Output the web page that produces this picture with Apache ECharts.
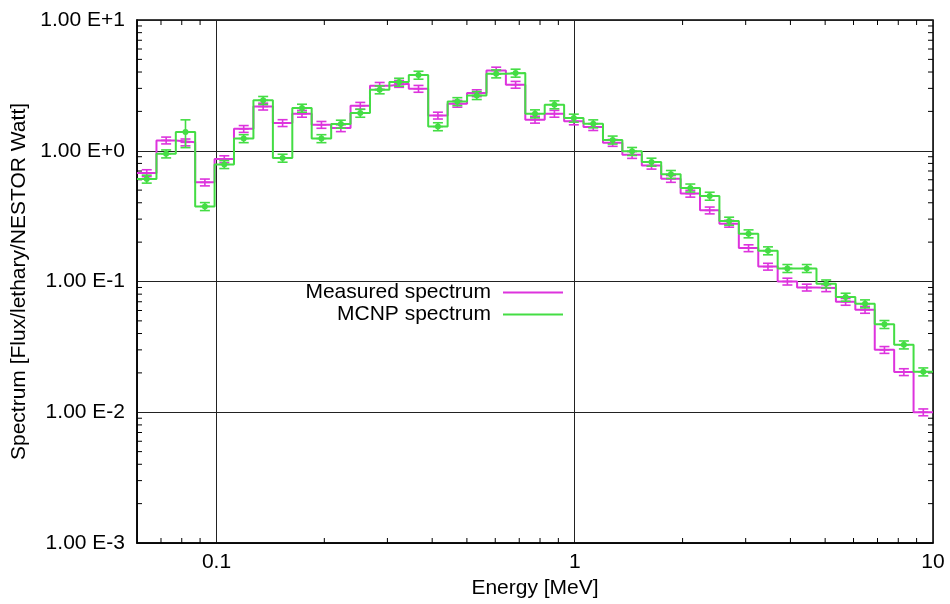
<!DOCTYPE html>
<html>
<head>
<meta charset="utf-8">
<script src="https://cdn.jsdelivr.net/npm/echarts@6/dist/echarts.min.js"></script>
<style>
  html, body { margin: 0; padding: 0; background: #fff; }
  #chart { width: 950px; height: 604px; }
</style>
</head>
<body>
<div id="chart"></div>
<script>
// energy group edges [MeV] (41 groups)
const binEdges = [0.0600, 0.0680, 0.0770, 0.0872, 0.0988, 0.1119, 0.1268, 0.1437, 0.1628, 0.1844,
  0.2090, 0.2367, 0.2682, 0.3038, 0.3442, 0.3899, 0.4418, 0.5005, 0.5671, 0.6424,
  0.7278, 0.8245, 0.9340, 1.058, 1.199, 1.358, 1.539, 1.743, 1.975, 2.237,
  2.534, 2.871, 3.253, 3.685, 4.175, 4.729, 5.358, 6.070, 6.877, 7.791,
  8.826, 10.0];

const measured = [0.675, 1.20, 1.16, 0.573, 0.863, 1.47, 2.18, 1.63, 1.92, 1.58,
  1.49, 2.21, 3.14, 3.25, 2.98, 1.86, 2.29, 2.76, 4.11, 3.20,
  1.73, 1.92, 1.68, 1.52, 1.15, 0.93, 0.77, 0.61, 0.47, 0.35,
  0.277, 0.18, 0.130, 0.100, 0.090, 0.089, 0.070, 0.0608, 0.030, 0.0203,
  0.0100];

const mcnp = [0.608, 0.948, 1.39, 0.375, 0.786, 1.24, 2.43, 0.879, 2.12, 1.24,
  1.60, 1.94, 2.93, 3.35, 3.79, 1.53, 2.38, 2.65, 3.88, 3.93,
  1.92, 2.25, 1.78, 1.61, 1.21, 0.99, 0.82, 0.66, 0.52, 0.45,
  0.29, 0.232, 0.172, 0.126, 0.126, 0.096, 0.076, 0.0676, 0.0470, 0.0328,
  0.0204];

// relative uncertainties
const measuredErr = [0.06, 0.06, 0.06, 0.06, 0.06, 0.06, 0.06, 0.06, 0.06, 0.06,
  0.06, 0.06, 0.06, 0.06, 0.06, 0.06, 0.06, 0.06, 0.06, 0.06,
  0.06, 0.06, 0.06, 0.06, 0.06, 0.06, 0.06, 0.06, 0.06, 0.06,
  0.06, 0.06, 0.06, 0.06, 0.06, 0.06, 0.06, 0.06, 0.06, 0.06,
  0.06];
const mcnpErr = [0.07, 0.07, 0.24, 0.07, 0.07, 0.07, 0.07, 0.07, 0.07, 0.07,
  0.07, 0.07, 0.07, 0.07, 0.07, 0.07, 0.07, 0.07, 0.07, 0.07,
  0.07, 0.07, 0.07, 0.07, 0.07, 0.07, 0.07, 0.07, 0.07, 0.07,
  0.07, 0.07, 0.07, 0.07, 0.07, 0.07, 0.07, 0.07, 0.07, 0.07,
  0.07];

const xTickLabels = { '0.1': '0.1', '1': '1', '10': '10' };
const yTickLabels = ['1.00 E-3', '1.00 E-2', '1.00 E-1', '1.00 E+0', '1.00 E+1'];
const minorMantissas = [2, 3, 4, 5, 6, 7, 8, 9];
const xDecades = [0.01, 0.1, 1];
const yDecades = [0.001, 0.01, 0.1, 1];

const FONT = 'Liberation Sans, Arial, Helvetica, sans-serif';
const FS = 21;
const MAGENTA = '#dd33dd';
const GREEN = '#44dd44';

function stepData(values) {
  const pts = values.map((v, i) => [binEdges[i], v]);
  pts.push([binEdges[binEdges.length - 1], values[values.length - 1]]);
  return pts;
}

function errData(values, err) {
  return values.map((v, i) => [
    Math.sqrt(binEdges[i] * binEdges[i + 1]), v, v * (1 - err[i]), v * (1 + err[i])
  ]);
}

function errRender(color, dot) {
  return (params, api) => {
    const x = api.value(0);
    const c = api.coord([x, api.value(1)]);
    const lo = api.coord([x, api.value(2)]);
    const hi = api.coord([x, api.value(3)]);
    const w = 5;
    const style = { stroke: color, lineWidth: 1.6 };
    const children = [
      { type: 'line', shape: { x1: c[0], y1: lo[1], x2: c[0], y2: hi[1] }, style },
      { type: 'line', shape: { x1: c[0] - w, y1: lo[1], x2: c[0] + w, y2: lo[1] }, style },
      { type: 'line', shape: { x1: c[0] - w, y1: hi[1], x2: c[0] + w, y2: hi[1] }, style },
      { type: 'line', shape: { x1: c[0] - w, y1: c[1], x2: c[0] + w, y2: c[1] }, style }
    ];
    if (dot) {
      children.push({ type: 'circle', shape: { cx: c[0], cy: c[1], r: 3 }, style: { fill: color } });
    }
    return { type: 'group', children };
  };
}

// gnuplot style minor ticks on all four sides
function minorTickRender(params, api) {
  const children = [];
  const len = 5;
  const style = { stroke: '#000', lineWidth: 1 };
  const bl = api.coord([0.06, 0.001]);
  const tr = api.coord([10, 10]);
  xDecades.forEach(d => minorMantissas.forEach(m => {
    const v = d * m;
    if (v <= 0.06 || v >= 10) return;
    const px = api.coord([v, 1])[0];
    children.push({ type: 'line', shape: { x1: px, y1: bl[1], x2: px, y2: bl[1] - len }, style });
    children.push({ type: 'line', shape: { x1: px, y1: tr[1], x2: px, y2: tr[1] + len }, style });
  }));
  yDecades.forEach(d => minorMantissas.forEach(m => {
    const v = d * m;
    const py = api.coord([1, v])[1];
    children.push({ type: 'line', shape: { x1: bl[0], y1: py, x2: bl[0] + len, y2: py }, style });
    children.push({ type: 'line', shape: { x1: tr[0], y1: py, x2: tr[0] - len, y2: py }, style });
  }));
  return { type: 'group', children };
}

const chart = echarts.init(document.getElementById('chart'));

chart.setOption({
  backgroundColor: '#fff',
  animation: false,
  grid: {
    left: 137, right: 17, top: 20, bottom: 61,
    show: true, borderColor: '#000', borderWidth: 1.5
  },
  legend: [
    {
      data: ['Measured spectrum'],
      right: 387, top: 282, padding: 0, align: 'right',
      icon: 'rect', itemWidth: 60, itemHeight: 2,
      textStyle: { fontFamily: FONT, fontSize: FS, color: '#000', lineHeight: 20, padding: [0, 7, 0, 0] }
    },
    {
      data: ['MCNP spectrum'],
      right: 387, top: 304, padding: 0, align: 'right',
      icon: 'rect', itemWidth: 60, itemHeight: 2,
      textStyle: { fontFamily: FONT, fontSize: FS, color: '#000', lineHeight: 20, padding: [0, 7, 0, 0] }
    }
  ],
  xAxis: {
    type: 'log', logBase: 10, min: 0.06, max: 10,
    name: 'Energy [MeV]', nameLocation: 'middle', nameGap: 31,
    nameTextStyle: { fontFamily: FONT, fontSize: FS, color: '#000' },
    axisLine: { show: true, lineStyle: { color: '#000', width: 1.5 } },
    axisTick: { show: false },
    axisLabel: {
      fontFamily: FONT, fontSize: FS, color: '#000', margin: 9,
      showMinLabel: false,
      formatter: v => xTickLabels[String(+v.toPrecision(3))] || ''
    },
    splitLine: { show: true, lineStyle: { color: '#222', width: 1 } }
  },
  yAxis: {
    type: 'log', logBase: 10, min: 0.001, max: 10,
    name: 'Spectrum [Flux/lethary/NESTOR Watt]', nameLocation: 'middle', nameGap: 106,
    nameTextStyle: { fontFamily: FONT, fontSize: FS, color: '#000' },
    axisLine: { show: true, lineStyle: { color: '#000', width: 1.5 } },
    axisTick: { show: false },
    axisLabel: {
      fontFamily: FONT, fontSize: FS, color: '#000', margin: 12,
      formatter: v => yTickLabels[Math.round(Math.log10(v)) + 3] || ''
    },
    splitLine: { show: true, lineStyle: { color: '#222', width: 1 } }
  },
  series: [
    {
      type: 'custom', silent: true, clip: false, z: 1,
      renderItem: minorTickRender, data: [[1, 1]]
    },
    {
      name: 'Measured spectrum', type: 'line', step: 'end',
      data: stepData(measured), showSymbol: false, color: MAGENTA,
      lineStyle: { color: MAGENTA, width: 2 }, z: 3
    },
    {
      type: 'custom', renderItem: errRender(MAGENTA, false),
      data: errData(measured, measuredErr), encode: { x: 0, y: 1 }, z: 3
    },
    {
      name: 'MCNP spectrum', type: 'line', step: 'end',
      data: stepData(mcnp), showSymbol: false, color: GREEN,
      lineStyle: { color: GREEN, width: 2 }, z: 4
    },
    {
      type: 'custom', renderItem: errRender(GREEN, true),
      data: errData(mcnp, mcnpErr), encode: { x: 0, y: 1 }, z: 4
    }
  ]
});
</script>
</body>
</html>
